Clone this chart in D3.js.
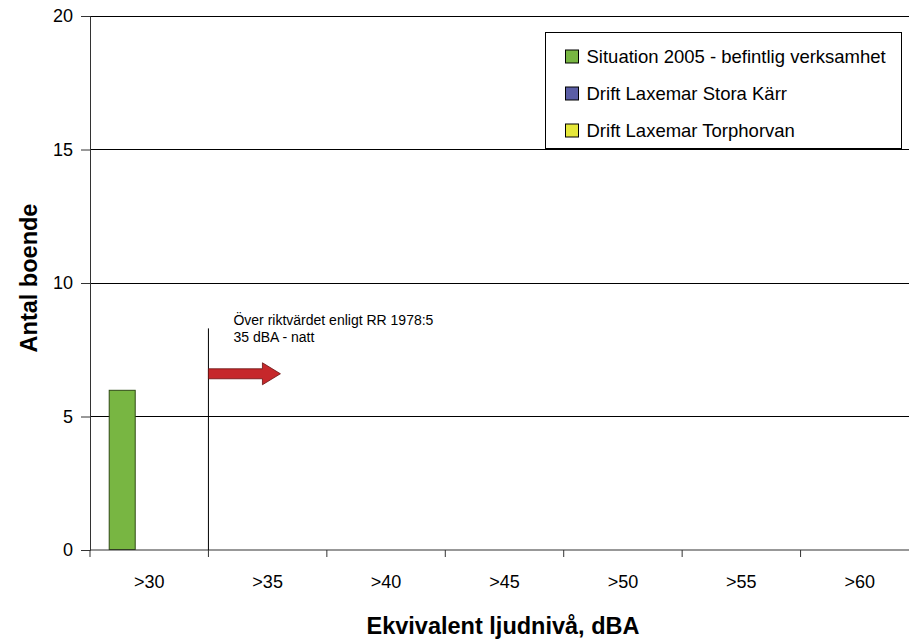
<!DOCTYPE html>
<html>
<head>
<meta charset="utf-8">
<script src="https://cdn.jsdelivr.net/npm/d3@7"></script>
<style>
  html, body { margin: 0; padding: 0; background: #fff; }
  svg { display: block; font-family: "Liberation Sans", Arial, sans-serif; }
</style>
</head>
<body>
<svg id="chart" width="909" height="639"></svg>
<script>
// Noise level classes (x axis)
const categories = [">30", ">35", ">40", ">45", ">50", ">55", ">60"];
// Series names and their values (number of residents per class)
const seriesNames = ["Situation 2005 - befintlig verksamhet", "Drift Laxemar Stora Kärr", "Drift Laxemar Torphorvan"];
const situation2005 = [6, 0, 0, 0, 0, 0, 0];
const driftStoraKarr = [0, 0, 0, 0, 0, 0, 0];
const driftTorphorvan = [0, 0, 0, 0, 0, 0, 0];
const yTicks = [0, 5, 10, 15, 20];
const seriesColors = ["#78b642", "#5b5ea6", "#e6e83a"];
const seriesStrokes = ["#2f4a14", "#2a2c5a", "#6a6a10"];

const svg = d3.select("#chart");
const margin = { left: 90, top: 16, right: 919, bottom: 550 };

const x = d3.scaleBand().domain(categories).range([margin.left, margin.right]);
const y = d3.scaleLinear().domain([0, 20]).range([margin.bottom, margin.top]);

const groupWidth = 81;
const xs = d3.scaleBand().domain(seriesNames).range([0, groupWidth]);

// Horizontal gridlines
svg.append("g").selectAll("line").data(yTicks.filter(d => d > 0)).join("line")
  .attr("x1", margin.left).attr("x2", 909)
  .attr("y1", d => y(d)).attr("y2", d => y(d))
  .attr("stroke", "#000").attr("stroke-width", 1).attr("shape-rendering", "crispEdges");

// Bars
const allSeries = [situation2005, driftStoraKarr, driftTorphorvan];
allSeries.forEach((vals, si) => {
  svg.append("g").selectAll("rect").data(vals.map((v, i) => ({ v, c: categories[i] })).filter(d => d.v > 0)).join("rect")
    .attr("x", d => x(d.c) + x.bandwidth() / 2 - groupWidth / 2 + xs(seriesNames[si]) + 0.5)
    .attr("y", d => y(d.v) + 0.5)
    .attr("width", xs.bandwidth() - 1)
    .attr("height", d => y(0) - y(d.v) - 1)
    .attr("fill", seriesColors[si])
    .attr("stroke", seriesStrokes[si]).attr("stroke-width", 1);
});

// Y axis
const yAxis = d3.axisLeft(y).tickValues(yTicks).tickSize(9).tickPadding(8);
const gy = svg.append("g").attr("transform", `translate(${margin.left},0)`).call(yAxis);
gy.select(".domain").attr("stroke", "#333");
gy.selectAll(".tick line").attr("stroke", "#333");
gy.selectAll("text").attr("font-size", 18).attr("fill", "#000")
  .attr("font-family", "Liberation Sans, Arial, sans-serif");

// X axis (ticks at category boundaries)
const gx = svg.append("g").attr("transform", `translate(0,${margin.bottom})`);
gx.append("line").attr("x1", margin.left).attr("x2", 909).attr("y1", 0).attr("y2", 0)
  .attr("stroke", "#333").attr("stroke-width", 1.2);
gx.selectAll("line.tick").data(categories).join("line").attr("class", "tick")
  .attr("x1", d => x(d)).attr("x2", d => x(d)).attr("y1", 0).attr("y2", 7)
  .attr("stroke", "#333");
gx.selectAll("text").data(categories).join("text")
  .attr("x", d => x(d) + x.bandwidth() / 2).attr("y", 38)
  .attr("text-anchor", "middle").attr("font-size", 18).text(d => d);

// Threshold line and annotation
const thresholdX = x(">35");
svg.append("line").attr("x1", thresholdX).attr("x2", thresholdX)
  .attr("y1", y(8.3)).attr("y2", y(0)).attr("stroke", "#000").attr("stroke-width", 1);
svg.append("text").attr("x", thresholdX + 25).attr("y", 325).attr("font-size", 14)
  .text("Över riktvärdet enligt RR 1978:5");
svg.append("text").attr("x", thresholdX + 25).attr("y", 342).attr("font-size", 14)
  .text("35 dBA - natt");

// Arrow pointing right
const ay = y(6.6);
const arrow = [
  [thresholdX, ay - 5], [thresholdX + 54, ay - 5], [thresholdX + 54, ay - 11],
  [thresholdX + 72, ay], [thresholdX + 54, ay + 11], [thresholdX + 54, ay + 5],
  [thresholdX, ay + 5]
];
svg.append("path").attr("d", d3.line()(arrow) + "Z")
  .attr("fill", "#c6282b").attr("stroke", "#6a1010").attr("stroke-width", 0.8);

// Legend
const lg = svg.append("g").attr("transform", "translate(545.5,32.5)");
lg.append("rect").attr("x", 0).attr("y", 0).attr("width", 356).attr("height", 116)
  .attr("fill", "#fff").attr("stroke", "#000").attr("stroke-width", 1);
seriesNames.forEach((name, i) => {
  const ry = 24 + i * 37;
  lg.append("rect").attr("x", 20).attr("y", ry - 6.5).attr("width", 13).attr("height", 13)
    .attr("fill", seriesColors[i]).attr("stroke", "#000").attr("stroke-width", 1);
  lg.append("text").attr("x", 41).attr("y", ry + 6.5).attr("font-size", 18.5).text(name);
});

// Axis titles
svg.append("text").attr("transform", "translate(37,278) rotate(-90)")
  .attr("text-anchor", "middle").attr("font-size", 23.5).attr("font-weight", "bold")
  .text("Antal boende");
svg.append("text").attr("x", 503).attr("y", 634)
  .attr("text-anchor", "middle").attr("font-size", 23.5).attr("font-weight", "bold")
  .text("Ekvivalent ljudnivå, dBA");
</script>
</body>
</html>
